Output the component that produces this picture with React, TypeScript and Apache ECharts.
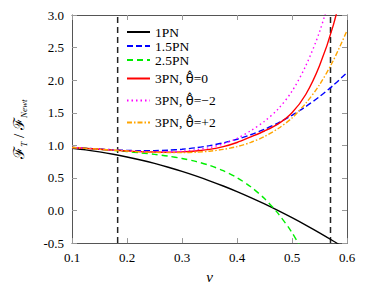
import React, { useEffect, useRef } from "react";
import * as echarts from "echarts";

const vs = [0.1, 0.125, 0.15, 0.175, 0.2, 0.225, 0.25, 0.275, 0.3, 0.325, 0.35, 0.375, 0.4, 0.425, 0.45, 0.475, 0.5, 0.525, 0.55, 0.575, 0.6];
const pn1 = [0.956, 0.931, 0.9, 0.864, 0.822, 0.775, 0.723, 0.664, 0.6, 0.531, 0.456, 0.376, 0.29, 0.198, 0.101, -0.002, -0.11, -0.224, -0.343, -0.468, -0.599];
const pn15 = [0.968, 0.955, 0.943, 0.931, 0.923, 0.918, 0.919, 0.926, 0.94, 0.962, 0.995, 1.038, 1.094, 1.163, 1.246, 1.345, 1.461, 1.595, 1.748, 1.921, 2.116];
const pn25 = [0.968, 0.953, 0.938, 0.922, 0.904, 0.885, 0.862, 0.835, 0.799, 0.753, 0.692, 0.611, 0.504, 0.364, 0.183, -0.048, -0.339, -0.702];
const pn3Zero = [0.968, 0.954, 0.94, 0.926, 0.914, 0.903, 0.897, 0.894, 0.899, 0.913, 0.938, 0.98, 1.044, 1.13, 1.22, 1.33, 1.5, 1.78, 2.22, 2.84, 3.7];
const pn3Minus2 = [0.968, 0.954, 0.94, 0.927, 0.915, 0.905, 0.9, 0.901, 0.91, 0.931, 0.966, 1.023, 1.106, 1.225, 1.37, 1.56, 1.83, 2.22, 2.74, 3.45, 4.3];
const pn3Plus2 = [0.968, 0.954, 0.94, 0.926, 0.913, 0.901, 0.893, 0.888, 0.888, 0.895, 0.91, 0.938, 0.981, 1.045, 1.135, 1.259, 1.42, 1.645, 1.93, 2.3, 2.76];
const vLines = [0.183, 0.57];
const xTicks = [0.1, 0.6, 0.1];
const yTicks = [-0.5, 3.0, 0.5];

const names = ["1PN", "1.5PN", "2.5PN", "3PN, θ̂=0", "3PN, θ̂=−2", "3PN, θ̂=+2"];

const pairs = (ys: number[]) => ys.map((y, i) => [vs[i], y]);

export default function App() {
  const ref = useRef<HTMLDivElement>(null);
  useEffect(() => {
    if (!ref.current) return;
    const chart = echarts.init(ref.current, null, { renderer: "svg" });
    const serif = "'Liberation Serif', 'DejaVu Serif', serif";
    const mk = (name: string, data: number[], color: string, type: any) => ({
      name,
      type: "line",
      data: pairs(data),
      symbol: "none",
      showSymbol: false,
      smooth: 0.3,
      clip: true,
      lineStyle: { color, width: 1.4, type },
      itemStyle: { color },
    });
    const vSeries = vLines.map((x) => ({
      name: "lso" + x,
      type: "line",
      data: [[x, yTicks[0]], [x, yTicks[1]]],
      symbol: "none",
      lineStyle: { color: "#222", width: 1.5, type: [6, 4] },
      silent: true,
    }));
    const tickStyle = { show: true, inside: true, length: 5, lineStyle: { color: "#999", width: 1 } };
    const lineSt = { show: true, onZero: false, lineStyle: { color: "#555", width: 1 } };
    const hat = "θ̂";
    const legendFormatter = (name: string) => {
      const i = name.indexOf(hat);
      if (i < 0) return name;
      return `{a|${name.slice(0, i)}}{t|${hat}}{a|${name.slice(i + hat.length)}}`;
    };
    const legendBase = {
      orient: "vertical",
      left: 126,
      itemWidth: 23,
      itemHeight: 8,
      padding: 0,
      itemStyle: { opacity: 0 },
      formatter: legendFormatter,
    };
    chart.setOption({
      animation: false,
      backgroundColor: "#fff",
      grid: { left: 72, right: 27, top: 15, bottom: 44 },
      legend: [
        {
          ...legendBase,
          data: names.slice(0, 3),
          top: 25,
          itemGap: 0,
          textStyle: { fontFamily: serif, fontSize: 13.5, color: "#000", lineHeight: 13.5 },
        },
        {
          ...legendBase,
          data: names.slice(3),
          top: 71,
          itemGap: 7,
          textStyle: {
            fontFamily: serif,
            fontSize: 13.5,
            color: "#000",
            lineHeight: 15,
            rich: {
              a: { fontFamily: serif, fontSize: 13.5, color: "#000", lineHeight: 15 },
              t: { fontFamily: "'DejaVu Sans'", fontSize: 13, color: "#000", lineHeight: 15 },
            },
          },
        },
      ],
      xAxis: [
        {
          type: "value",
          min: xTicks[0],
          max: xTicks[1],
          interval: xTicks[2],
          axisLine: lineSt,
          axisTick: tickStyle,
          splitLine: { show: false },
          axisLabel: { fontFamily: serif, fontSize: 13, color: "#000", margin: 8, formatter: (v: number) => v.toFixed(1) },
          name: "v",
          nameLocation: "middle",
          nameGap: 23,
          nameTextStyle: { fontFamily: serif, fontSize: 15, fontStyle: "italic", color: "#000" },
        },
        {
          type: "value",
          position: "top",
          min: xTicks[0],
          max: xTicks[1],
          interval: xTicks[2],
          axisLine: lineSt,
          axisTick: tickStyle,
          splitLine: { show: false },
          axisLabel: { show: false },
        },
      ],
      yAxis: [
        {
          type: "value",
          min: yTicks[0],
          max: yTicks[1],
          interval: yTicks[2],
          axisLine: lineSt,
          axisTick: tickStyle,
          splitLine: { show: false },
          axisLabel: { fontFamily: serif, fontSize: 13, color: "#000", margin: 8, formatter: (v: number) => v.toFixed(1) },
          name: "{f|ℱ}{s|T}{f| / ℱ}{s|Newt}",
          nameLocation: "middle",
          nameRotate: 90,
          nameGap: 44,
          nameTextStyle: {
            color: "#000",
            rich: {
              f: { fontFamily: serif, fontSize: 15, lineHeight: 18, color: "#000" },
              s: { fontFamily: serif, fontSize: 9, fontStyle: "italic", lineHeight: 10, verticalAlign: "bottom", color: "#000" },
            },
          },
        },
        {
          type: "value",
          position: "right",
          min: yTicks[0],
          max: yTicks[1],
          interval: yTicks[2],
          axisLine: lineSt,
          axisTick: tickStyle,
          splitLine: { show: false },
          axisLabel: { show: false },
        },
      ],
      series: [
        ...vSeries,
        mk(names[0], pn1, "#000000", "solid"),
        mk(names[1], pn15, "#0000ff", [6, 3]),
        mk(names[2], pn25, "#00ee00", [6, 4]),
        mk(names[3], pn3Zero, "#ff0000", "solid"),
        mk(names[4], pn3Minus2, "#ff00ff", [1.5, 3]),
        mk(names[5], pn3Plus2, "#ffa500", [5, 2, 1.5, 2]),
      ],
    });
    return () => chart.dispose();
  }, []);
  return <div ref={ref} style={{ position: "fixed", left: 0, top: 0, width: 374, height: 289, background: "#fff" }} />;
}
